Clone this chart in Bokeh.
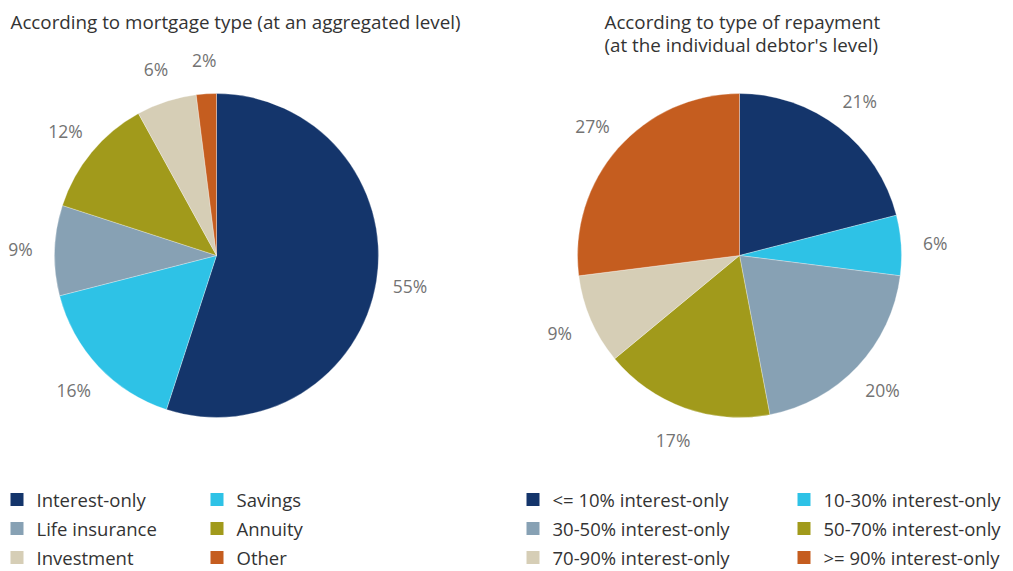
import math
from bokeh.plotting import figure
from bokeh.models import Range1d, ColumnDataSource
from bokeh.core.properties import value
from bokeh.embed import file_html
from bokeh.resources import INLINE

# ---- data ----
left_title = ["According to mortgage type (at an aggregated level)"]
left_cats = ["Interest-only", "Savings", "Life insurance", "Annuity", "Investment", "Other"]
left_vals = [55, 16, 9, 12, 6, 2]

right_title = ["According to type of repayment", "(at the individual debtor's level)"]
right_cats = ["<= 10% interest-only", "10-30% interest-only", "30-50% interest-only",
              "50-70% interest-only", "70-90% interest-only", ">= 90% interest-only"]
right_vals = [21, 6, 20, 17, 9, 27]

colors = ["#14356B", "#2EC2E6", "#87A1B4", "#A19A1B", "#D6CEB6", "#C55D1F"]

W, H = 1013, 571
FONT = "Open Sans"
TXT = "#333333"
LBL = "#737373"

p = figure(width=W, height=H, x_range=Range1d(0, W), y_range=Range1d(0, H),
           output_backend="svg", toolbar_location=None, min_border=0)
p.axis.visible = False
p.xgrid.visible = False
p.ygrid.visible = False
p.outline_line_color = None
p.background_fill_color = "white"
p.border_fill_color = "white"


def Y(py):
    return H - py


def pie(cx, cy, r, vals, cols):
    total = float(sum(vals))
    starts, ends, lx, ly, labs = [], [], [], [], []
    cum = 0.0
    for v in vals:
        a0 = math.pi / 2 - 2 * math.pi * (cum + v) / total
        a1 = math.pi / 2 - 2 * math.pi * cum / total
        starts.append(a0)
        ends.append(a1)
        mid = (a0 + a1) / 2
        d = r + 34
        lx.append(cx + d * math.cos(mid))
        ly.append(cy + d * math.sin(mid))
        labs.append(f"{v}%")
        cum += v
    src = ColumnDataSource(dict(x=[cx] * len(vals), y=[cy] * len(vals),
                                s=starts, e=ends, c=cols))
    p.wedge(x="x", y="y", radius=r, start_angle="s", end_angle="e",
            fill_color="c", line_color="white", line_width=0.3, source=src)
    p.text(x=lx, y=ly, text=labs, text_font=value(FONT), text_font_size="17.5px",
           text_color=LBL, text_align="center", text_baseline="middle")


pie(216, Y(255), 162, left_vals, colors)
pie(739, Y(255), 162, right_vals, colors)

# titles
p.text(x=[10], y=[Y(21)], text=left_title, text_font=value(FONT), text_font_size="18.8px",
       text_color=TXT, text_align="left", text_baseline="middle")
p.text(x=[604, 604], y=[Y(21), Y(44)], text=right_title, text_font=value(FONT),
       text_font_size="18.8px", text_color=TXT, text_align="left", text_baseline="middle")


def legend(x0, x1, cats, cols):
    xs, ys = [], []
    for i in range(len(cats)):
        col = i % 2
        row = i // 2
        xs.append(x0 if col == 0 else x1)
        ys.append(Y(499 + 29 * row))
    p.rect(x=[x + 6.5 for x in xs], y=ys, width=13, height=13, fill_color=cols, line_color=None)
    p.text(x=[x + 26 for x in xs], y=ys, text=cats, text_font=value(FONT),
           text_font_size="18.5px", text_color=TXT, text_align="left", text_baseline="middle")


legend(10, 210, left_cats, colors)
legend(526, 797, right_cats, colors)

open("out.html", "w").write(file_html(p, INLINE))
